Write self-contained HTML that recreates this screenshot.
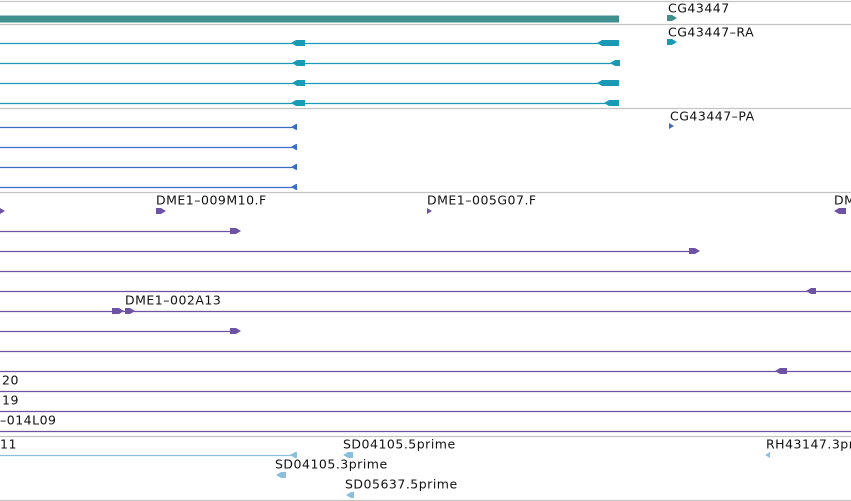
<!DOCTYPE html>
<html><head><meta charset="utf-8"><style>
html,body{margin:0;padding:0;background:#fff;width:851px;height:501px;overflow:hidden}
svg text{font-family:"DejaVu Sans","Liberation Sans",sans-serif;font-size:12.5px;letter-spacing:0.5px;fill:#111}
</style></head><body>
<svg id="c" width="851" height="501" viewBox="0 0 851 501" xmlns="http://www.w3.org/2000/svg"></svg>
<script>
const separators=[1,24,108,192,436,500];
const rowY=[43,63,83,103,127,147,167,187,231,251,271,291,311,331,351,371,391,411,431,455];
const rowEnd=[619,619,619,619,297,297,297,297,236,695,851,851,851,236,851,851,851,851,851,296];
const rowColor=['#1a9bb5','#1a9bb5','#1a9bb5','#1a9bb5','#3a6cc8','#3a6cc8','#3a6cc8','#3a6cc8','#6e52a3','#6e52a3','#6e52a3','#6e52a3','#6e52a3','#6e52a3','#6e52a3','#6e52a3','#6e52a3','#6e52a3','#6e52a3','#8bbfe0'];
const featX1=[0,667,667,291,597,292,610,292,597,291,604,669,291,291,291,291,0,156,427,834,230,689,806,112,125,230,775,290,343,765,276,346];
const featX2=[619,677,677,305,619,305,620,305,619,305,619,674,297,297,297,297,5,166,432,846,241,700,816,124,135,241,787,297,353,770,286,354];
const featY=[19,18,42,43,43,63,63,83,83,103,103,126,127,147,167,187,211,211,211,211,231,251,291,311,311,331,371,455,455,455,475,495];
const featH=[7,6,6,6,6,6,6,6,6,6,6,6,6,6,6,6,6,6,6,6,6,6,6,6,6,6,6,6,6,6,6,6];
const featDir=[0,1,1,-1,-1,-1,-1,-1,-1,-1,-1,1,-1,-1,-1,-1,1,1,1,-1,1,1,-1,1,1,1,-1,-1,-1,-1,-1,-1];
const featC=['#3f8f8f','#3f8f8f','#1a9bb5','#1a9bb5','#1a9bb5','#1a9bb5','#1a9bb5','#1a9bb5','#1a9bb5','#1a9bb5','#1a9bb5','#3a6cc8','#3a6cc8','#3a6cc8','#3a6cc8','#3a6cc8','#6e52a3','#6e52a3','#6e52a3','#6e52a3','#6e52a3','#6e52a3','#6e52a3','#6e52a3','#6e52a3','#6e52a3','#6e52a3','#8bbfe0','#8bbfe0','#8bbfe0','#8bbfe0','#8bbfe0'];
const labelText=['CG43447','CG43447\u2013RA','CG43447\u2013PA','DME1\u2013009M10.F','DME1\u2013005G07.F','DM','DME1\u2013002A13','20','19','\u2013014L09','11','SD04105.5prime','RH43147.3pri','SD04105.3prime','SD05637.5prime'];
const labelX=[668,668,670,156,427,834,125,2,2,0,0,343,766,275,345];
const labelY=[9,33,117,201,201,201,301,381,401,421,445,445,445,465,485];

const svg=document.getElementById('c');
const NS='http://www.w3.org/2000/svg';
function mk(t,a){const e=document.createElementNS(NS,t);for(const k in a)e.setAttribute(k,a[k]);svg.appendChild(e);return e;}
separators.forEach(y=>{const e=mk('line',{x1:0,x2:851,y1:y+0.5,y2:y+0.5,stroke:'#c4c4c4','stroke-width':1.2});

});
rowY.forEach((y,i)=>{const e=mk('line',{x1:0,x2:rowEnd[i],y1:y+0.5,y2:y+0.5,stroke:rowColor[i],'stroke-width':1.3});

});
featX1.forEach((x1,i)=>{const x2=featX2[i],y=featY[i],h=featH[i],d=featDir[i];
let p;const t=y-h/2,b=y+h/2,a=Math.min(5,(x2-x1));
if(d===1)p=`M${x1},${t}L${x2-a},${t}L${x2},${y}L${x2-a},${b}L${x1},${b}Z`;
else if(d===-1)p=`M${x2},${t}L${x1+a},${t}L${x1},${y}L${x1+a},${b}L${x2},${b}Z`;
else p=`M${x1},${t}L${x2},${t}L${x2},${b}L${x1},${b}Z`;
const e=mk('path',{d:p,fill:featC[i]});

});
labelText.forEach((s,i)=>{const e=mk('text',{x:labelX[i],y:labelY[i],'dominant-baseline':'middle'});e.textContent=s;

});
</script>
</body></html>
